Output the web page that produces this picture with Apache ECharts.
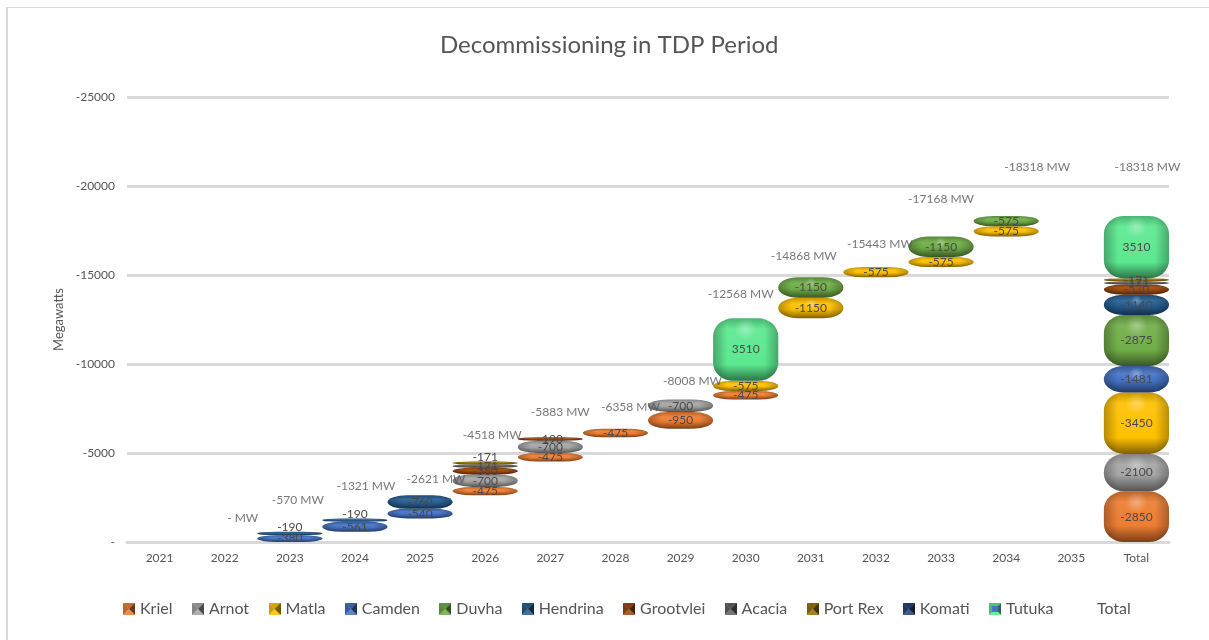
<!DOCTYPE html>
<html>
<head>
<meta charset="utf-8">
<style>
  html, body { margin: 0; padding: 0; background: #fff; }
  #chart { width: 1209px; height: 640px; }
</style>
<script src="https://cdn.jsdelivr.net/npm/echarts@6/dist/echarts.min.js"></script>
</head>
<body>
<div id="chart"></div>
<script>
// categories and axis ticks
const categories = ['2021', '2022', '2023', '2024', '2025', '2026', '2027', '2028', '2029', '2030', '2031', '2032', '2033', '2034', '2035', 'Total'];
const yTicks = [-25000, -20000, -15000, -10000, -5000, 0];

// decommissioned MW per station, same order as categories
const kriel     = [null, null, null, null, null, -475, -475, -475, -950, -475, null, null, null, null, null, -2850];
const arnot     = [null, null, null, null, null, -700, -700, null, -700, null, null, null, null, null, null, -2100];
const matla     = [null, null, null, null, null, null, null, null, null, -575, -1150, -575, -575, -575, null, -3450];
const camden    = [null, null, -380, -561, -540, null, null, null, null, null, null, null, null, null, null, -1481];
const duvha     = [null, null, null, null, null, null, null, null, null, null, -1150, null, -1150, -575, null, -2875];
const hendrina  = [null, null, -190, -190, -760, null, null, null, null, null, null, null, null, null, null, -1140];
const grootvlei = [null, null, null, null, null, -380, -190, null, null, null, null, null, null, null, null, -570];
const acacia    = [null, null, null, null, null, -171, null, null, null, null, null, null, null, null, null, -171];
const portRex   = [null, null, null, null, null, -171, null, null, null, null, null, null, null, null, null, -171];
const komati    = [null, null, null, null, null, null, null, null, null, null, null, null, null, null, null, null];
const tutuka    = [null, null, null, null, null, null, null, null, null, 3510, null, null, null, null, null, 3510];

// cumulative labels
const totals = [null, 0, -570, -1321, -2621, -4518, -5883, -6358, -8008, -12568, -14868, -15443, -17168, -18318, null, -18318];

// the cumulative labels were dragged by hand in the original, so each one has its own shift
const totalLabelShift = [null, [18, -24], [8, -32], [11, -32], [16, -16], [7, -26], [10, -25], [15, -22], [12, -18], [-5, -24], [-7, -21], [4, -23], [0, -37], [31, -49], null, [11, -49]];

const stations = [
  { name: 'Kriel', values: kriel, color: '#ED7D31' },
  { name: 'Arnot', values: arnot, color: '#A5A5A5' },
  { name: 'Matla', values: matla, color: '#FFC000' },
  { name: 'Camden', values: camden, color: '#4472C4' },
  { name: 'Duvha', values: duvha, color: '#70AD47' },
  { name: 'Hendrina', values: hendrina, color: '#255E91' },
  { name: 'Grootvlei', values: grootvlei, color: '#9E480E' },
  { name: 'Acacia', values: acacia, color: '#636363' },
  { name: 'Port Rex', values: portRex, color: '#997300' },
  { name: 'Komati', values: komati, color: '#264478' },
  { name: 'Tutuka', values: tutuka, color: '#5BE88F' }
];

const FONT = 'Lato, "Open Sans", sans-serif';
const TEXT = '#555555';

// 把颜色调亮/调暗
const shade = (hex, k) => {
  const n = parseInt(hex.slice(1), 16);
  const ch = v => Math.max(0, Math.min(255, Math.round(k > 1 ? v + (255 - v) * (k - 1) : v * k)));
  return `rgb(${ch(n >> 16)},${ch((n >> 8) & 255)},${ch(n & 255)})`;
};

// bevelled square used as legend marker
const swatch = (color, name) => {
  const c = document.createElement('canvas');
  c.width = 24; c.height = 24;
  const g = c.getContext('2d');
  const tri = (x1, y1, x2, y2, fill) => {
    g.fillStyle = fill;
    g.beginPath(); g.moveTo(x1, y1); g.lineTo(x2, y2); g.lineTo(12, 12); g.closePath(); g.fill();
  };
  tri(0, 0, 24, 0, shade(color, 0.85));
  tri(0, 0, 0, 24, shade(color, 0.8));
  tri(24, 0, 24, 24, shade(color, 0.45));
  tri(0, 24, 24, 24, shade(color, 1.12));
  if (name === 'Tutuka') {
    g.fillStyle = '#4472C4';
    g.fillRect(6, 6, 12, 12);
  }
  return 'image://' + c.toDataURL();
};

// labels that sit above their thin bar in the original
const raised = { Hendrina: ['2023', '2024'], 'Port Rex': ['2026'] };

// waterfall: each year starts where the previous cumulative stopped, Total starts from zero
const running = categories.map((c, i) => (c === 'Total' || i === 0 ? 0 : Math.abs(totals[i - 1] || 0)));
const barSeries = stations.map(st => {
  const rows = [];
  st.values.forEach((v, i) => {
    if (v === null) return;
    const start = running[i];
    running[i] += Math.abs(v);
    rows.push([i, -start, -running[i], v]);
  });
  return {
    name: st.name,
    type: 'custom',
    data: rows,
    encode: { x: 0, y: [1, 2] },
    itemStyle: { color: st.color },
    clip: false,
    renderItem: (params, api) => {
      const base = api.coord([api.value(0), api.value(1)]);
      const end = api.coord([api.value(0), api.value(2)]);
      const w = api.size([1, 0])[0];
      const x = base[0] - w / 2;
      const y = end[1];
      const h = Math.max(base[1] - end[1], 1);
      const rx = 20;
      const ry = Math.min(h / 2, 18);
      const d = `M${x + rx} ${y}L${x + w - rx} ${y}A${rx} ${ry} 0 0 1 ${x + w} ${y + ry}L${x + w} ${y + h - ry}` +
        `A${rx} ${ry} 0 0 1 ${x + w - rx} ${y + h}L${x + rx} ${y + h}A${rx} ${ry} 0 0 1 ${x} ${y + h - ry}` +
        `L${x} ${y + ry}A${rx} ${ry} 0 0 1 ${x + rx} ${y}Z`;
      const r = ry / h;
      const vertical = new echarts.graphic.LinearGradient(0, 0, 0, 1, [
        { offset: 0, color: shade(st.color, 0.78) },
        { offset: r * 0.6, color: shade(st.color, 1.08) },
        { offset: 1 - r * 0.9, color: st.color },
        { offset: 1, color: shade(st.color, 0.5) }
      ]);
      const edge = rx / w * 0.7;
      const sides = new echarts.graphic.LinearGradient(0, 0, 1, 0, [
        { offset: 0, color: 'rgba(0,0,0,0.28)' },
        { offset: edge, color: 'rgba(0,0,0,0)' },
        { offset: 1 - edge, color: 'rgba(0,0,0,0)' },
        { offset: 1, color: 'rgba(0,0,0,0.28)' }
      ]);
      const children = [
        { type: 'path', shape: { pathData: d }, style: { fill: vertical } },
        { type: 'path', shape: { pathData: d }, style: { fill: sides } }
      ];
      if (h > 20) {
        const glow = new echarts.graphic.RadialGradient(0.5, 0.5, 0.5, [
          { offset: 0, color: 'rgba(255,255,255,0.32)' },
          { offset: 1, color: 'rgba(255,255,255,0)' }
        ]);
        children.push({
          type: 'ellipse',
          shape: { cx: base[0], cy: y + ry * 0.6, rx: 24, ry: Math.min(h * 0.28, 11) },
          style: { fill: glow }
        });
      }
      const cat = categories[api.value(0)];
      const lift = (raised[st.name] || []).includes(cat) ? 6 : 0;
      children.push({
        type: 'text',
        z2: 100,
        style: {
          x: base[0], y: y + h / 2 - lift,
          text: String(api.value(3)),
          align: 'center', verticalAlign: 'middle',
          fill: '#4a4a4a', font: `12px ${FONT}`
        }
      });
      return { type: 'group', children };
    }
  };
});

// invisible points carrying the cumulative MW labels
const totalSeries = {
  name: 'Total',
  type: 'scatter',
  symbolSize: 1,
  itemStyle: { color: 'rgba(0,0,0,0)' },
  z: 5,
  data: totals.map((v, i) => ({
    value: v === null ? '-' : v,
    label: { offset: totalLabelShift[i] || [0, 0] }
  })),
  label: {
    show: true,
    position: 'inside',
    color: TEXT,
    fontFamily: FONT,
    fontSize: 12,
    formatter: p => (p.value === 0 ? '- MW' : `${p.value} MW`)
  }
};

const chart = echarts.init(document.getElementById('chart'));
chart.setOption({
  animation: false,
  backgroundColor: '#fff',
  title: {
    text: 'Decommissioning in TDP Period',
    left: 435,
    top: 28,
    textStyle: { color: TEXT, fontFamily: FONT, fontSize: 24, fontWeight: 'normal' }
  },
  graphic: [
    { type: 'rect', shape: { x: 6, y: 7, width: 2, height: 633 }, style: { fill: '#d9d9d9' } },
    { type: 'rect', shape: { x: 6, y: 7, width: 1203, height: 1 }, style: { fill: '#d9d9d9' } }
  ],
  legend: {
    left: 123,
    top: 601,
    padding: 0,
    itemWidth: 12,
    itemHeight: 12,
    itemGap: 19.4,
    textStyle: { color: TEXT, fontFamily: FONT, fontSize: 16 },
    data: stations.map(st => ({ name: st.name, icon: swatch(st.color, st.name) }))
      .concat([{ name: 'Total', icon: 'rect', itemStyle: { opacity: 0 }, textStyle: { padding: [0, 0, 0, 7] } }])
  },
  grid: { left: 127, right: 40, top: 97, bottom: 98 },
  xAxis: {
    type: 'category',
    data: categories,
    axisLine: { onZero: false, lineStyle: { color: '#d9d9d9', width: 3 } },
    axisTick: { length: 5, lineStyle: { color: '#d9d9d9', width: 1 } },
    axisLabel: { color: TEXT, fontFamily: FONT, fontSize: 12, margin: 10 }
  },
  yAxis: {
    type: 'value',
    inverse: true,
    min: yTicks[0],
    max: yTicks[yTicks.length - 1],
    interval: 5000,
    name: 'Megawatts',
    nameLocation: 'middle',
    nameGap: 59,
    nameTextStyle: { color: TEXT, fontFamily: FONT, fontSize: 13 },
    axisLine: { show: false },
    axisTick: { show: false },
    axisLabel: {
      color: TEXT, fontFamily: FONT, fontSize: 12, margin: 12,
      formatter: v => (v === 0 ? '-' : String(v))
    },
    splitLine: { lineStyle: { color: '#d9d9d9', width: 3 } }
  },
  series: barSeries.concat([totalSeries])
});
</script>
</body>
</html>
